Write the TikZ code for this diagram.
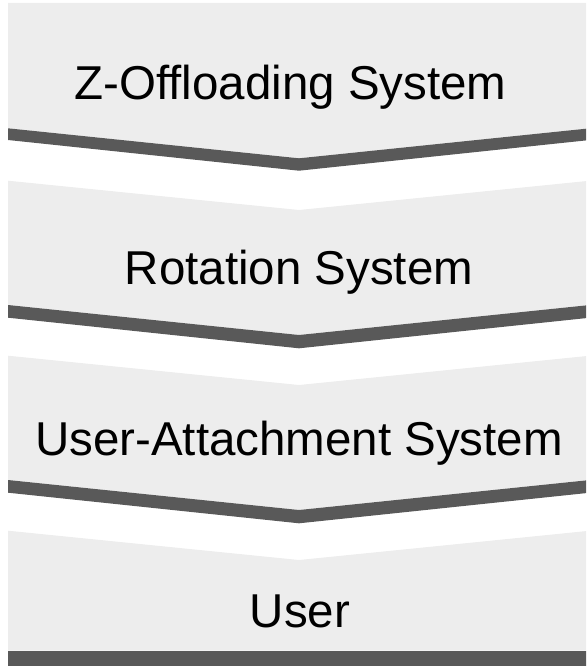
\documentclass[tikz,border=0pt]{standalone}
\usepackage{fontspec}
\setmainfont{Liberation Sans}
\definecolor{stagefill}{HTML}{EDEDED}
\definecolor{stageedge}{HTML}{595959}
\begin{document}
\begin{tikzpicture}[x=1pt,y=-1pt,
  stagebody/.style={fill=stagefill,draw=none},
  stageband/.style={fill=stageedge,draw=none},
  stagelabel/.style={font=\fontsize{47.5}{50}\selectfont,anchor=base,inner sep=0pt,text=black}]
\useasboundingbox (0,0) rectangle (586,666);
\clip (0,0) rectangle (586,666);
% tip of every chevron sits on x = 299
% stage 1 (flat top)
\fill[stagebody] (8,3) -- (590,3) -- (590,128.3) -- (299,158.3) -- (8,128.3) -- cycle;
\fill[stageband] (8,128.3) -- (299,158.3) -- (590,128.3) -- (590,140) -- (299,170.7) -- (8,140) -- cycle;
% stage 2
\fill[stagebody] (8,180.7) -- (299,210) -- (590,180.7) -- (590,305) -- (299,335) -- (8,305) -- cycle;
\fill[stageband] (8,305) -- (299,335) -- (590,305) -- (590,317.7) -- (299,348.3) -- (8,317.7) -- cycle;
% stage 3
\fill[stagebody] (8,355.7) -- (299,385) -- (590,355.7) -- (590,480) -- (299,510) -- (8,480) -- cycle;
\fill[stageband] (8,480) -- (299,510) -- (590,480) -- (590,492.7) -- (299,523.3) -- (8,492.7) -- cycle;
% stage 4 (flat bottom bar)
\fill[stagebody] (8,530.7) -- (299,560) -- (590,530.7) -- (590,650.7) -- (8,650.7) -- cycle;
\fill[stageband] (8,650.7) rectangle (590,667);
% labels
\node[stagelabel] (zoff) at (290.5,99.3) {Z-Offloading System};
\node[stagelabel] (rot) at (299,284.3) {Rotation System};
\node[stagelabel] (attach) at (299,455) {User-Attachment System};
\node[stagelabel] (user) at (300,627.3) {User};
\end{tikzpicture}
\end{document}
